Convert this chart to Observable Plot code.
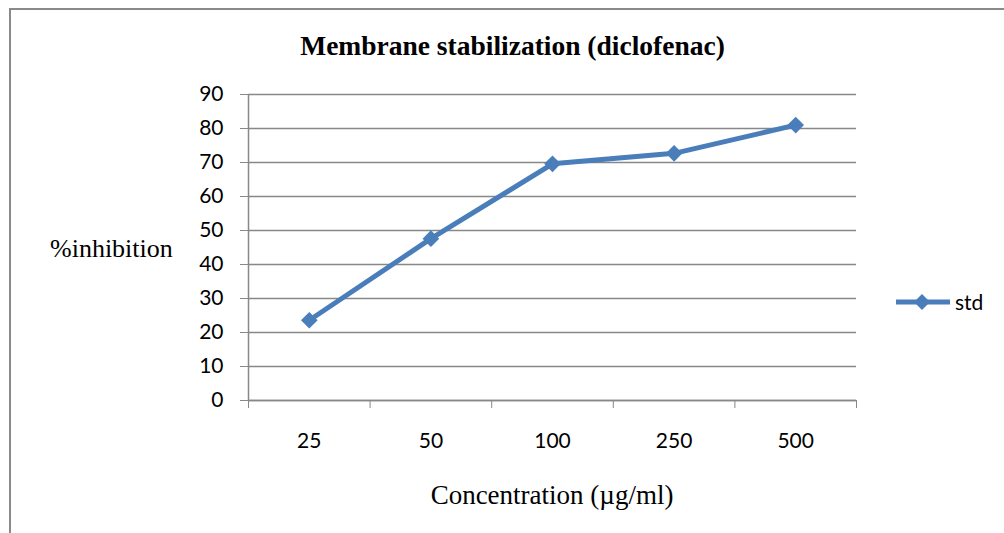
<!DOCTYPE html>
<html><head><meta charset="utf-8">
<script src="https://cdn.jsdelivr.net/npm/d3@7"></script>
<script src="https://cdn.jsdelivr.net/npm/@observablehq/plot@0.6"></script>
<style>
html,body{margin:0;padding:0;background:#fff;width:1004px;height:533px;overflow:hidden;position:relative;}
#frame{position:absolute;left:9px;top:8px;width:1100px;height:600px;border:2px solid #8a8a8a;box-sizing:border-box;}
#chart{position:absolute;left:0;top:0;}
.t{position:absolute;white-space:nowrap;color:#000;}
.serif{font-family:"Liberation Serif","DejaVu Serif",serif;}
</style></head><body>
<div id="frame"></div>
<div id="chart"></div>
<div class="t serif" id="title" style="left:0;width:1025px;text-align:center;top:31px;font-size:27.5px;line-height:30px;font-weight:bold;"></div>
<div class="t serif" id="ylab" style="left:50px;top:234px;font-size:26px;line-height:30px;"></div>
<div class="t serif" id="xlab" style="left:0;width:1104px;text-align:center;top:480px;font-size:27px;line-height:30px;"></div>
<div class="t" id="legend" style="left:894px;top:289px;font-family:Lato,sans-serif;font-size:21px;line-height:26px;display:flex;align-items:center;"></div>
<script>
const titleText = "Membrane stabilization (diclofenac)";
const yLabel = "%inhibition";
const xLabel = "Concentration (µg/ml)";
const seriesName = "std";
const concentrations = ["25", "50", "100", "250", "500"];
const inhibition = [23.6, 47.6, 69.6, 72.7, 81.0];
const yTicks = [0, 10, 20, 30, 40, 50, 60, 70, 80, 90];

const lineColor = "#4a7ebb";
const gridColor = "#888888";

document.getElementById("title").textContent = titleText;
document.getElementById("ylab").textContent = yLabel;
document.getElementById("xlab").textContent = xLabel;

const data = concentrations.map((c, i) => ({idx: i + 0.5, conc: c, value: inhibition[i]}));
const bounds = d3.range(concentrations.length + 1);

const chart = Plot.plot({
  width: 1004,
  height: 533,
  marginLeft: 248,
  marginRight: 148,
  marginTop: 94,
  marginBottom: 133,
  style: {background: "transparent", fontFamily: "Lato, sans-serif", color: "black"},
  x: {type: "linear", domain: [0, concentrations.length]},
  y: {domain: [0, 90]},
  marks: [
    Plot.gridY(yTicks, {stroke: gridColor, strokeOpacity: 1, strokeWidth: 1.5}),
    Plot.ruleX([0], {stroke: gridColor, strokeWidth: 1.5}),
    Plot.ruleY([0], {stroke: gridColor, strokeWidth: 1.5}),
    Plot.axisY(yTicks, {tickSize: 8, tickPadding: 17, fontSize: 21, stroke: gridColor, fill: "black", label: null}),
    Plot.axisX(bounds, {tickSize: 8, tickFormat: () => "", stroke: gridColor, label: null}),
    Plot.axisX(data.map(d => d.idx), {tickSize: 0, tickPadding: 33, fontSize: 21, fill: "black", label: null,
      tickFormat: d => concentrations[Math.floor(d)]}),
    Plot.line(data, {x: "idx", y: "value", stroke: lineColor, strokeWidth: 5}),
    Plot.dot(data, {x: "idx", y: "value", symbol: "diamond2", r: 7.5, fill: lineColor, stroke: "none"})
  ]
});
document.getElementById("chart").appendChild(chart);

const leg = document.getElementById("legend");
leg.innerHTML = `<svg width="58" height="26" style="display:block"><line x1="2" x2="56" y1="13" y2="13" stroke="${lineColor}" stroke-width="5"/><path d="M28,5 L36,13 L28,21 L20,13 Z" fill="${lineColor}"/></svg><span style="margin-left:3px">${seriesName}</span>`;
</script>
</body></html>
